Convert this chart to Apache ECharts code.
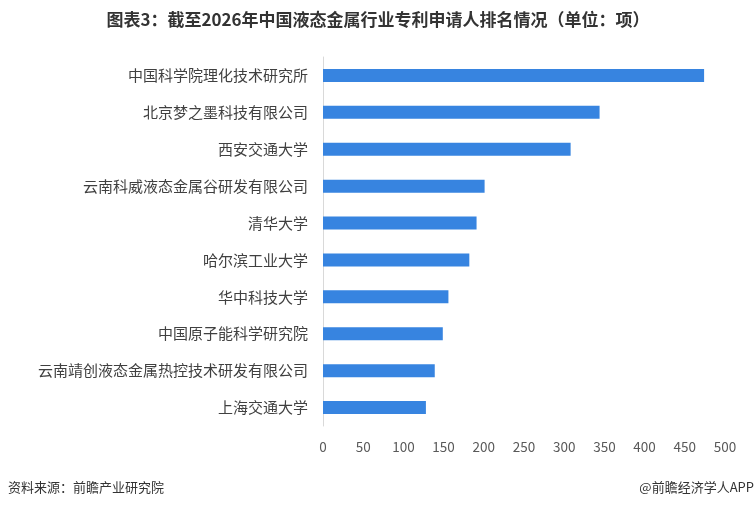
<!DOCTYPE html>
<html><head><meta charset="utf-8">
<script src="https://cdn.jsdelivr.net/npm/echarts@6/dist/echarts.min.js"></script>
<style>html,body{margin:0;padding:0;background:#fff}#c{width:756px;height:509px}</style>
</head><body><div id="c"></div>
<script>
const categories = ["中国科学院理化技术研究所","北京梦之墨科技有限公司","西安交通大学","云南科威液态金属谷研发有限公司","清华大学","哈尔滨工业大学","华中科技大学","中国原子能科学研究院","云南靖创液态金属热控技术研发有限公司","上海交通大学"];
const values = [474,344,308,201,191,182,156,149,139,128];
const xTicks = [0,50,100,150,200,250,300,350,400,450,500];
const titleText = "图表3：截至2026年中国液态金属行业专利申请人排名情况（单位：项）";
const sourceText = "资料来源：前瞻产业研究院";
const brandText = "@前瞻经济学人APP";

const chart = echarts.init(document.getElementById('c'));
const font = '"Noto Sans CJK SC", "Microsoft YaHei", sans-serif';
chart.setOption({
  animation:false,
  textStyle:{fontFamily:font},
  title:{text:titleText,left:'center',top:6,textStyle:{fontSize:17,fontWeight:'bold',color:'#333',fontFamily:font}},
  graphic:[
    {type:'text',left:8,top:481,style:{text:sourceText,fontSize:13,fill:'#333',fontFamily:font}},
    {type:'text',right:2,top:481,style:{text:brandText,fontSize:13,fill:'#333',fontFamily:font}}
  ],
  grid:{left:323,right:31,top:57,bottom:83,containLabel:false},
  xAxis:{type:'value',min:xTicks[0],max:xTicks[xTicks.length-1],interval:xTicks[1]-xTicks[0],
    axisLine:{show:false},axisTick:{show:false},splitLine:{show:false},
    axisLabel:{fontSize:13.5,color:'#595959',margin:14}},
  yAxis:{type:'category',inverse:true,data:categories,
    axisLine:{show:true,lineStyle:{color:'#d9d9d9'}},axisTick:{show:false},
    axisLabel:{fontSize:15,color:'#404040',margin:15}},
  series:[{type:'bar',data:values,barWidth:13,itemStyle:{color:'#3784e0'}}]
});
</script></body></html>
